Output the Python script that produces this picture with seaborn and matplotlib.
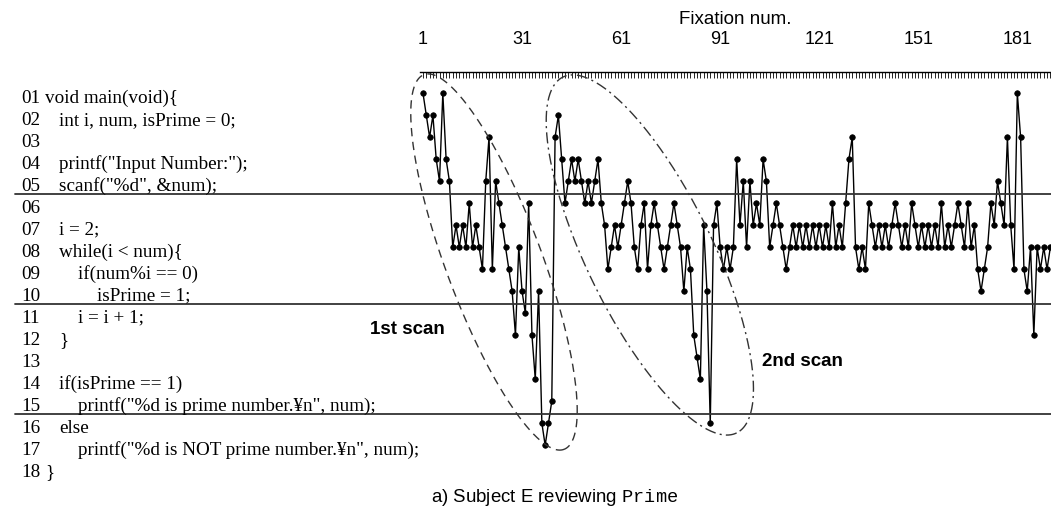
import numpy as np
import seaborn as sns
import matplotlib.pyplot as plt
import matplotlib.transforms as mtransforms

sns.set_theme(style="white")
plt.rcParams['font.family'] = ['Liberation Sans', 'DejaVu Sans']
plt.rcParams['mathtext.fontset'] = 'custom'
plt.rcParams['mathtext.tt'] = 'Liberation Mono'

# line of code looked at, one entry per fixation
fixation_line = [1, 2, 3, 2, 4, 5, 1, 4, 5,
                 8, 7, 8, 7, 8, 6, 8, 7, 8,
                 9, 5, 3, 9, 5,
                 6, 7, 8, 9, 10, 12, 8, 10, 11, 6, 12, 14, 10, 16, 17, 16, 15,
                 3, 2, 4, 6, 5, 4, 5,
                 4, 5, 6, 5, 6, 5, 4, 6, 7, 9, 8, 7, 8, 7, 6, 5, 6, 8, 9, 7, 6, 9, 7, 6,
                 7, 8, 9, 8, 7, 6, 7, 8, 10, 8, 9, 12, 13, 14, 7, 10, 16, 7, 6, 8, 9, 8, 9, 8, 4,
                 7, 5, 8, 5, 7, 6, 7, 4, 5, 8, 7, 6, 7, 8, 9, 8, 7, 8, 7, 8, 7, 8, 7, 8,
                 7, 8, 7, 8, 6, 8, 7, 8, 6, 4, 3, 8, 9, 8, 9, 6, 7, 8, 7, 8, 7, 8, 7, 6,
                 7, 8, 7, 8, 6, 7, 8, 7, 8, 7, 8, 7, 8, 6, 8, 7, 8, 7, 6, 7, 8, 6, 8, 7,
                 9, 10, 9, 8, 6, 7, 5, 6, 7, 3, 7, 9, 1, 3, 9, 10, 8, 12, 8, 9, 8, 9, 8]
fixation_num = list(range(1, len(fixation_line) + 1))

tick_values = [1, 31, 61, 91, 121, 151, 181]

code_numbers = ['01', '02', '03', '04', '05', '06', '07', '08', '09',
                '10', '11', '12', '13', '14', '15', '16', '17', '18']
code_text = ['void main(void){', 'int i, num, isPrime = 0;', '',
             'printf("Input Number:");', 'scanf("%d", &num);', '',
             'i = 2;', 'while(i < num){', 'if(num%i == 0)', 'isPrime = 1;',
             'i = i + 1;', '}', '', 'if(isPrime == 1)',
             'printf("%d is prime number.¥n", num);', 'else',
             'printf("%d is NOT prime number.¥n", num);', '}']
code_indent = [0, 1, 0, 1, 1, 0, 1, 1, 2, 3, 2, 1, 0, 1, 2, 1, 2, 0]
indent_x = [45, 59, 78, 97]  # pixels

section_breaks = [5.6, 10.6, 15.6]

W, H = 1051, 511
fig = plt.figure(figsize=(W / 100, H / 100), dpi=100)
ax = fig.add_axes([420 / W, 1 - 480 / H, 631 / W, 408 / H])

sns.lineplot(x=fixation_num, y=fixation_line, ax=ax, sort=False, estimator=None,
             color='black', linewidth=1, marker='o', markersize=4,
             markeredgecolor='black', markeredgewidth=0.5)

ax.set_xlim(0.09, 191.2)
ax.set_ylim(18.58, 0.032)
ax.set_yticks([])
ax.xaxis.tick_top()
ax.xaxis.set_label_position('top')
ax.set_xticks(tick_values)
ax.set_xticks(range(1, 192), minor=True)
ax.tick_params(axis='x', which='both', direction='in', top=True, bottom=False,
               length=4.5, width=0.6, color='black')
ax.tick_params(axis='x', which='major', pad=17, labelsize=13, labelcolor='black')
ax.set_xlabel('Fixation num.', fontsize=13.5, labelpad=5, color='black')
for side in ['left', 'right', 'bottom']:
    ax.spines[side].set_visible(False)
ax.spines['top'].set_color('black')
ax.spines['top'].set_linewidth(1)

# code listing and section separators
trans = mtransforms.blended_transform_factory(fig.transFigure, ax.transData)
for k, (num, txt, ind) in enumerate(zip(code_numbers, code_text, code_indent), start=1):
    ax.text(21 / W, k + 0.43, num, transform=trans, family='Liberation Serif',
            fontsize=13.8, va='baseline', ha='left', color='black')
    ax.text(indent_x[ind] / W, k + 0.43, txt, transform=trans, family='Liberation Serif',
            fontsize=13.8, va='baseline', ha='left', color='black')
for yb in section_breaks:
    ax.plot([15 / W, 1.0], [yb, yb], transform=trans, color='#333333', lw=1.3, clip_on=False)


# scan ellipses: centre in data units, size in pixels, angle in image coords
def ellipse_xy(cx, cy, a, b, angle):
    t = np.linspace(0, 2 * np.pi, 400)
    phi = np.deg2rad(angle)
    dx = a * np.cos(t) * np.cos(phi) - b * np.sin(t) * np.sin(phi)
    dy = a * np.cos(t) * np.sin(phi) + b * np.sin(t) * np.cos(phi)
    c = ax.transData.transform((cx, cy))
    pts = np.column_stack([c[0] + dx, c[1] - dy])
    d = ax.transData.inverted().transform(pts)
    return d[:, 0], d[:, 1]


ex, ey = ellipse_xy(22.5, 8.67, 200, 48, 69.5)
ax.plot(ex, ey, color='#333333', lw=1, ls=(0, (6, 4)), clip_on=False)
ex, ey = ellipse_xy(69.7, 8.35, 198, 63, 64)
ax.plot(ex, ey, color='#333333', lw=1, ls=(0, (8, 3, 1.5, 3)), clip_on=False)

ax.text(-3.8, 11.76, '1st scan', fontsize=13.5, fontweight='bold', ha='center',
        va='center', clip_on=False, color='black')
ax.text(115.9, 13.2, '2nd scan', fontsize=13.5, fontweight='bold', ha='center',
        va='center', clip_on=False, color='black')

fig.text(0.528, 1 - 497 / H, 'a) Subject E reviewing $\\mathtt{Prime}$', fontsize=13.4,
         ha='center', va='center', color='black')

fig.savefig('out.png', dpi=100)
